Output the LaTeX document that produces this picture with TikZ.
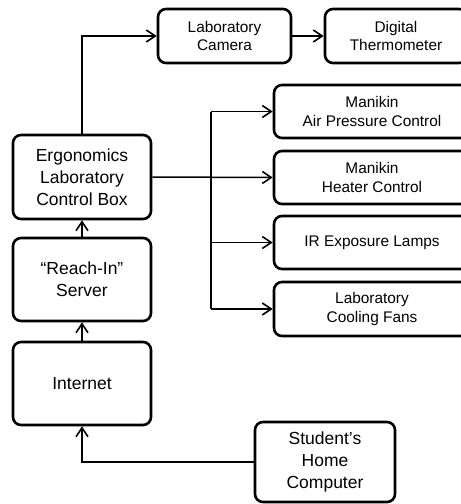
\documentclass[tikz,border=0pt]{standalone}
\usepackage{fontspec}
\setmainfont{Liberation Sans}
\usetikzlibrary{arrows.meta}
\begin{document}
\begin{tikzpicture}[x=1pt,y=-1pt,
  box/.style={draw, line width=2.6pt, rounded corners=8pt, align=center, inner sep=0pt},
  bigbox/.style={box, font=\fontsize{17.5}{22}\selectfont},
  smallbox/.style={box, font=\fontsize{15.4}{18.3}\selectfont},
  arr/.style={line width=1.5pt, -{Straight Barb[length=9pt,width=12pt,line width=1.6pt]}},
  ln/.style={line width=1.5pt}]
\useasboundingbox (0,0) rectangle (461,504);
\clip (0,0) rectangle (461,504);
\node[smallbox, minimum width=133pt, minimum height=54pt] (cam) at (224.5,36) {Laboratory\\Camera};
\node[smallbox, minimum width=142pt, minimum height=54pt] (therm) at (396,36) {Digital\\Thermometer};
\node[smallbox, minimum width=196pt, minimum height=53pt] (air) at (372,111.5) {Manikin\\Air Pressure Control};
\node[smallbox, minimum width=196pt, minimum height=53pt] (heat) at (372,177.5) {Manikin\\Heater Control};
\node[smallbox, minimum width=196pt, minimum height=53pt] (ir) at (372,242.5) {IR Exposure Lamps};
\node[smallbox, minimum width=196pt, minimum height=54pt] (fans) at (372,309) {Laboratory\\Cooling Fans};
\node[bigbox, minimum width=138pt, minimum height=84pt] (ergo) at (82,177) {Ergonomics\\Laboratory\\Control Box};
\node[bigbox, minimum width=138pt, minimum height=83pt] (reach) at (82,279.5) {“Reach-In”\\Server};
\node[bigbox, minimum width=138pt, minimum height=83pt] (inet) at (82,383.5) {Internet};
\node[bigbox, minimum width=140pt, minimum height=80pt] (stud) at (325,462) {Student’s\\Home\\Computer};
\coordinate (bustop) at (211,111.5);
\coordinate (busbot) at (211,309);
\draw[arr] (ergo.north) |- (cam.west);
\draw[arr] (cam.east) -- (therm.west);
\draw[arr] (ergo.east) -- (heat.west);
\draw[ln] (bustop) -- (busbot);
\draw[arr] (bustop) -- (air.west);
\draw[arr] (bustop |- ir.west) -- (ir.west);
\draw[arr] (busbot) -- (fans.west);
\draw[arr] (reach.north) -- (ergo.south);
\draw[arr] (inet.north) -- (reach.south);
\draw[arr] (stud.west) -| (inet.south);
\end{tikzpicture}
\end{document}
